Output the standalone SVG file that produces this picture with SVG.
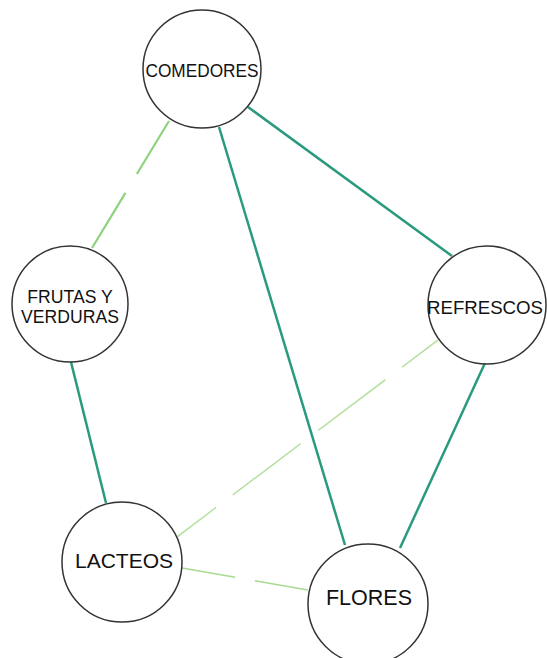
<svg xmlns="http://www.w3.org/2000/svg" width="547" height="658" viewBox="0 0 547 658">
<style>
.node circle{fill:#ffffff;stroke:#333333;stroke-width:1.5}
.node text{font-family:"Liberation Sans",Arial,sans-serif;fill:#111111;text-anchor:middle}
.solid{stroke:#2a9a7e;stroke-width:2.5;fill:none}
.d1{stroke:#8ed27c;stroke-width:2.2;fill:none}
.d2{stroke:#b9e2a6;stroke-width:1.6;fill:none}
.d3{stroke:#a8da92;stroke-width:1.6;fill:none}
</style>
<rect width="547" height="658" fill="#ffffff"/>
<g id="connectors">
<line class="d1" x1="169" y1="121" x2="92" y2="248" stroke-dasharray="62 22 80"/>
<line class="solid" x1="219" y1="127" x2="345" y2="545"/>
<line class="solid" x1="248" y1="107" x2="452" y2="256"/>
<line class="solid" x1="71" y1="362" x2="106" y2="503"/>
<line class="solid" x1="485" y1="363" x2="400" y2="548"/>
<line class="d2" x1="438" y1="340" x2="177" y2="537" stroke-dasharray="45 21 84 22 85 21 70"/>
<line class="d3" x1="182" y1="568" x2="308" y2="590" stroke-dasharray="54 20 70"/>
</g>
<g id="node-comedores" class="node">
<circle cx="202" cy="69" r="59"/>
<text x="202" y="77" font-size="17.5" textLength="113" lengthAdjust="spacingAndGlyphs">COMEDORES</text>
</g>
<g id="node-frutas" class="node">
<circle cx="70" cy="304" r="58"/>
<text x="70" y="303" font-size="17.6">FRUTAS Y</text>
<text x="70" y="323" font-size="17.6">VERDURAS</text>
</g>
<g id="node-refrescos" class="node">
<circle cx="487" cy="305" r="59"/>
<text x="485" y="314" font-size="17.5" textLength="116" lengthAdjust="spacingAndGlyphs">REFRESCOS</text>
</g>
<g id="node-lacteos" class="node">
<circle cx="122" cy="562" r="60"/>
<text x="124" y="568" font-size="21">LACTEOS</text>
</g>
<g id="node-flores" class="node">
<circle cx="368" cy="604" r="60"/>
<text x="369" y="605" font-size="21.5">FLORES</text>
</g>
</svg>
